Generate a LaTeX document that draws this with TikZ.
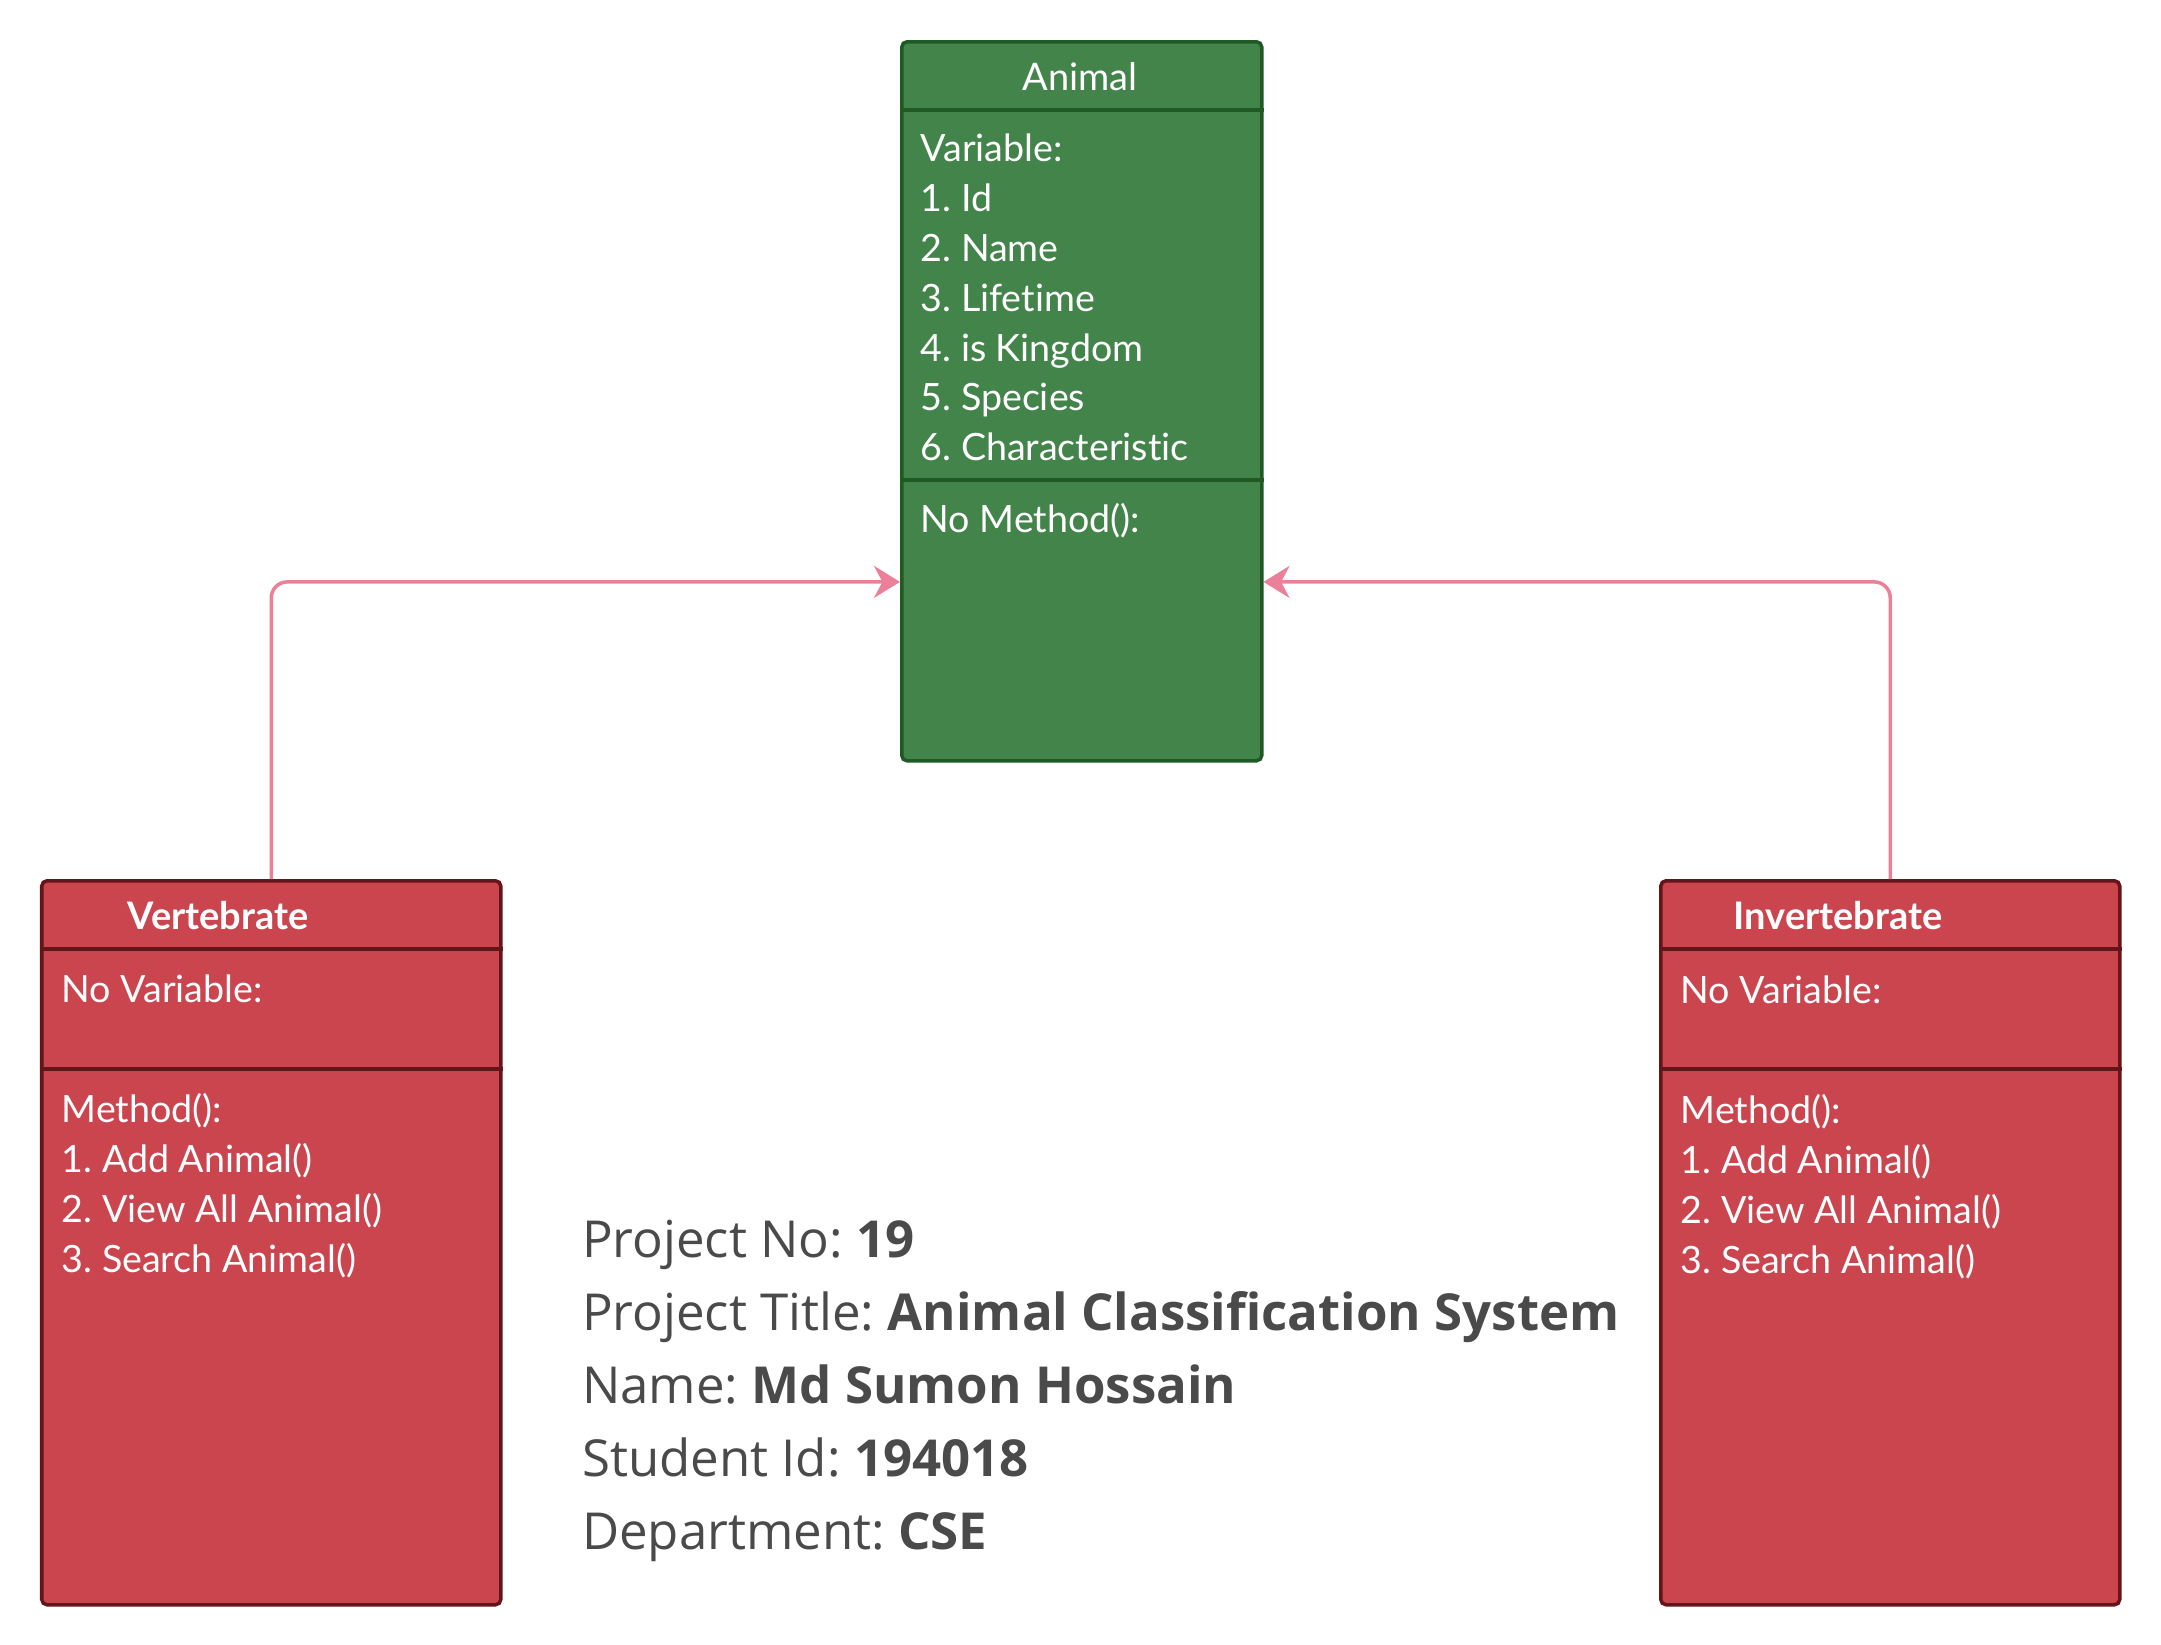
\documentclass[tikz,border=0pt]{standalone}
\usepackage{fontspec}
\usetikzlibrary{arrows.meta,positioning,calc}
\newfontfamily\latofont[Ligatures=NoCommon]{Lato}
\newfontfamily\infofont{Open Sans}
\frenchspacing
\definecolor{LeafGreen}{RGB}{67,132,75}
\definecolor{DarkGreen}{RGB}{31,90,37}
\definecolor{BrickRed}{RGB}{203,69,79}
\definecolor{DarkRed}{RGB}{100,21,25}
\definecolor{Pink}{RGB}{236,128,153}
\definecolor{InkGray}{RGB}{74,74,74}
\tikzset{
  >=Stealth,
  classbox/.style={draw,line width=1pt,rounded corners=1.5pt,anchor=north west,inner sep=0pt},
  animalbox/.style={classbox,draw=DarkGreen,fill=LeafGreen},
  kindbox/.style={classbox,draw=DarkRed,fill=BrickRed},
  greenrule/.style={line width=1pt,draw=DarkGreen},
  redrule/.style={line width=1pt,draw=DarkRed},
  title/.style={text=white,font=\latofont\fontsize{10.8}{14.2}\selectfont,inner sep=0pt},
  boldtitle/.style={title,font=\latofont\bfseries\fontsize{10.8}{14.2}\selectfont},
  members/.style={text=white,font=\latofont\fontsize{10.7}{14.2}\selectfont,align=left,anchor=north west,inner sep=0pt},
  info/.style={text=InkGray,font=\infofont\fontsize{14.5}{20.8}\selectfont,align=left,anchor=north west,inner sep=0pt},
  inherit/.style={-{Stealth[length=2.6mm,width=3.2mm]},line width=1pt,draw=Pink,rounded corners=1.6mm}
}
\begin{document}
\begin{tikzpicture}[x=1cm,y=1cm]
  \useasboundingbox (0,0) rectangle (21.61,-16.44);
  % parent class
  \node[animalbox,minimum width=3.6cm,minimum height=7.19cm] (animal) at (9.0,-0.4) {};
  \draw[greenrule] ([yshift=-7mm]animal.north west) -- ([yshift=-7mm]animal.north east);
  \draw[greenrule] ([yshift=-44mm]animal.north west) -- ([yshift=-44mm]animal.north east);
  \node[title] (animaltitle) at (10.8,-0.77) {Animal};
  \node[members] (animalvars) at (9.2,-1.33) {Variable:\\1. Id\\2. Name\\3. Lifetime\\4. is Kingdom\\5. Species\\6. Characteristic};
  \node[members] (animalmeths) at (9.2,-5.03) {No Method():};
  % child classes
  \node[kindbox,minimum width=4.59cm,minimum height=7.24cm] (vert) at (0.40,-8.79) {};
  \draw[redrule] ([yshift=-7mm]vert.north west) -- ([yshift=-7mm]vert.north east);
  \draw[redrule] ([yshift=-19mm]vert.north west) -- ([yshift=-19mm]vert.north east);
  \node[boldtitle] (verttitle) at (2.18,-9.16) {Vertebrate};
  \node[members] (vertvars) at (0.61,-9.74) {No Variable:};
  \node[members] (vertmeths) at (0.61,-10.93) {Method():\\1. Add Animal()\\2. View All Animal()\\3. Search Animal()};
  \node[kindbox,minimum width=4.59cm,minimum height=7.24cm] (invert) at (16.59,-8.79) {};
  \draw[redrule] ([yshift=-7mm]invert.north west) -- ([yshift=-7mm]invert.north east);
  \draw[redrule] ([yshift=-19mm]invert.north west) -- ([yshift=-19mm]invert.north east);
  \node[boldtitle] (inverttitle) at (18.38,-9.16) {Invertebrate};
  \node[members] (invertvars) at (16.80,-9.75) {No Variable:};
  \node[members] (invertmeths) at (16.80,-10.94) {Method():\\1. Add Animal()\\2. View All Animal()\\3. Search Animal()};
  % inheritance
  \coordinate (animalL) at ($(animal.north west)!0.75!(animal.south west)$);
  \coordinate (animalR) at ($(animal.north east)!0.75!(animal.south east)$);
  \draw[inherit] (vert.north) |- (animalL);
  \draw[inherit] (invert.north) |- (animalR);
  % project details
  \node[info] (details) at (5.815,-12.19) {Project No: \textbf{19}\\Project Title: \textbf{Animal Classification System}\\Name: \textbf{Md Sumon Hossain}\\Student Id: \textbf{194018}\\Department: \textbf{CSE}};
\end{tikzpicture}
\end{document}
